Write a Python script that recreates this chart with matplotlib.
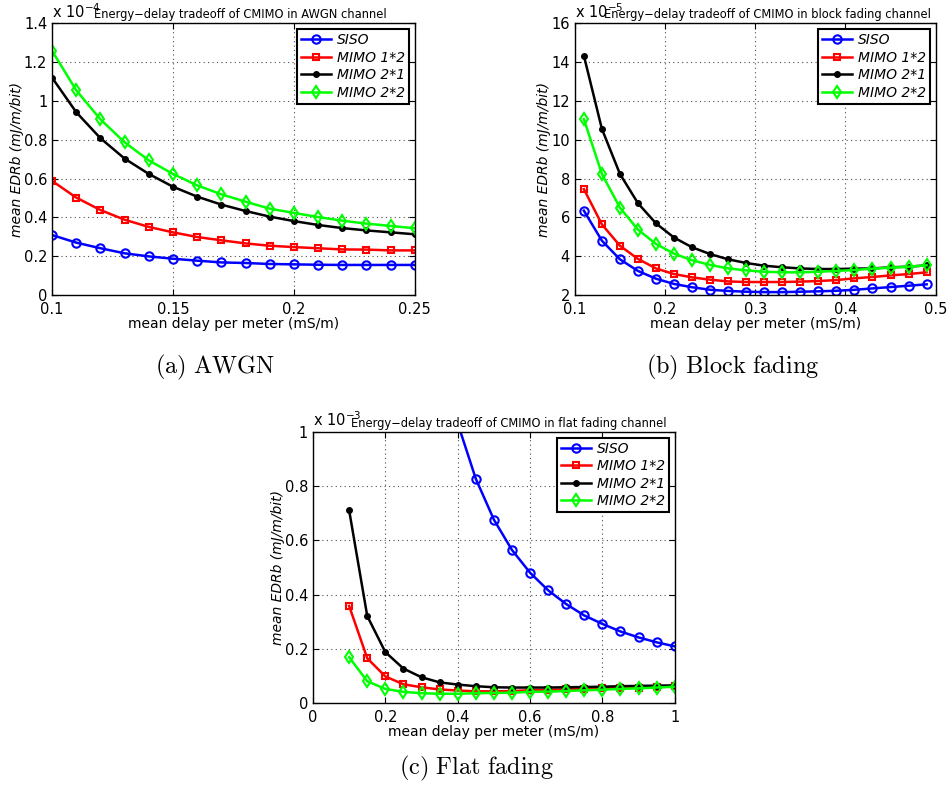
import numpy as np
import matplotlib.pyplot as plt
from matplotlib.ticker import FormatStrFormatter

plt.rcParams['mathtext.fontset'] = 'cm'

labels = ['SISO', 'MIMO 1*2', 'MIMO 2*1', 'MIMO 2*2']

# (a) AWGN, values in units of 1e-4
xa = np.arange(0.10, 0.2501, 0.01)
siso_a = [0.309, 0.270, 0.241, 0.215, 0.199, 0.187, 0.177, 0.168, 0.165, 0.160, 0.158, 0.156, 0.155, 0.155, 0.155, 0.155]
m12_a = [0.588, 0.502, 0.438, 0.388, 0.351, 0.323, 0.299, 0.282, 0.266, 0.254, 0.247, 0.241, 0.235, 0.234, 0.230, 0.230]
m21_a = [1.120, 0.942, 0.808, 0.703, 0.624, 0.558, 0.507, 0.466, 0.433, 0.404, 0.381, 0.361, 0.345, 0.333, 0.323, 0.313]
m22_a = [1.258, 1.055, 0.905, 0.787, 0.694, 0.624, 0.565, 0.519, 0.481, 0.445, 0.423, 0.402, 0.383, 0.368, 0.356, 0.344]

# (b) block fading, values in units of 1e-5
xb = np.arange(0.11, 0.4901, 0.02)
siso_b = [6.35, 4.80, 3.84, 3.24, 2.84, 2.57, 2.40, 2.27, 2.21, 2.17, 2.15, 2.15, 2.17, 2.19, 2.22, 2.27, 2.34, 2.41, 2.48, 2.55]
m12_b = [7.46, 5.64, 4.54, 3.86, 3.37, 3.08, 2.91, 2.79, 2.70, 2.67, 2.67, 2.67, 2.69, 2.72, 2.77, 2.86, 2.93, 3.01, 3.08, 3.17]
m21_b = [14.34, 10.56, 8.24, 6.73, 5.69, 4.96, 4.46, 4.11, 3.84, 3.65, 3.51, 3.43, 3.37, 3.34, 3.34, 3.36, 3.37, 3.43, 3.46, 3.53]
m22_b = [11.07, 8.24, 6.50, 5.37, 4.63, 4.13, 3.79, 3.55, 3.37, 3.27, 3.20, 3.17, 3.17, 3.20, 3.24, 3.29, 3.36, 3.41, 3.46, 3.53]

# (c) flat fading, values in units of 1e-3
xc = np.arange(0.10, 1.0001, 0.05)
xc_siso = np.arange(0.40, 1.0001, 0.05)
siso_c = [1.033, 0.828, 0.677, 0.565, 0.481, 0.416, 0.365, 0.323, 0.292, 0.264, 0.242, 0.224, 0.209]
m12_c = [0.358, 0.165, 0.098, 0.069, 0.058, 0.050, 0.046, 0.043, 0.043, 0.044, 0.047, 0.048, 0.050, 0.052, 0.054, 0.055, 0.057, 0.059, 0.061]
m21_c = [0.711, 0.321, 0.188, 0.127, 0.095, 0.076, 0.068, 0.062, 0.058, 0.057, 0.057, 0.057, 0.058, 0.059, 0.060, 0.062, 0.063, 0.064, 0.065]
m22_c = [0.169, 0.080, 0.052, 0.041, 0.036, 0.034, 0.034, 0.036, 0.037, 0.038, 0.041, 0.042, 0.044, 0.047, 0.049, 0.052, 0.054, 0.057, 0.060]

styles = [dict(color=(0, 0, 1), marker='o', ms=6, mfc='none', mew=1.5),
          dict(color=(1, 0, 0), marker='s', ms=5, mfc='none', mew=1.5),
          dict(color='k', marker='o', ms=4, mfc='k', mew=1),
          dict(color=(0, 1, 0), marker='d', ms=6, mfc='none', mew=1.5)]

fig = plt.figure(figsize=(9.47, 7.92), dpi=100)


def panel(rect, xs, ys, xlim, ylim, xt, yt, exp, title, title_x):
    ax = fig.add_axes(rect)
    for x, y, lab, st in zip(xs, ys, labels, styles):
        ax.plot(x, y, lw=1.8, label=lab, **st)
    ax.set_xlim(xlim)
    ax.set_ylim(ylim)
    ax.set_xticks(xt)
    ax.set_yticks(yt)
    ax.xaxis.set_major_formatter(FormatStrFormatter('%g'))
    ax.yaxis.set_major_formatter(FormatStrFormatter('%g'))
    ax.tick_params(direction='in', top=True, right=True, labelsize=10.5, length=4)
    ax.tick_params(axis='x', pad=5)
    ax.grid(True, ls=(0, (1, 3)), color='0.3', lw=0.8)
    for s in ax.spines.values():
        s.set_linewidth(1.0)
    ax.set_xlabel('mean delay per meter (mS/m)', fontsize=10, labelpad=0)
    ax.set_ylabel('mean EDRb (mJ/m/bit)', fontsize=10, style='italic', labelpad=0)
    ax.text(0.0, 1.01, r'x 10$^{%d}$' % exp, transform=ax.transAxes, fontsize=10.5,
            ha='left', va='bottom', math_fontfamily='dejavusans')
    ax.set_title(title, fontsize=8.3, pad=4, x=title_x)
    leg = ax.legend(loc='upper right', fancybox=False, framealpha=1, edgecolor='k',
                    prop=dict(style='italic', size=10), handlelength=2.2,
                    borderaxespad=0.4, labelspacing=0.25, borderpad=0.3, handletextpad=0.4)
    leg.get_frame().set_linewidth(1.5)
    return ax


panel([0.055, 0.6275, 0.383, 0.343], [xa] * 4, [siso_a, m12_a, m21_a, m22_a],
      (0.1, 0.25), (0, 1.4), [0.1, 0.15, 0.2, 0.25], np.arange(0, 1.41, 0.2), -4,
      'Energy\u2212delay tradeoff of CMIMO in AWGN channel', 0.52)
panel([0.607, 0.6275, 0.381, 0.343], [xb] * 4, [siso_b, m12_b, m21_b, m22_b],
      (0.1, 0.5), (2, 16), np.arange(0.1, 0.51, 0.1), np.arange(2, 16.1, 2), -5,
      'Energy\u2212delay tradeoff of CMIMO in block fading channel', 0.535)
panel([0.3305, 0.1124, 0.382, 0.342], [xc_siso, xc, xc, xc], [siso_c, m12_c, m21_c, m22_c],
      (0, 1), (0, 1), np.arange(0, 1.01, 0.2), np.arange(0, 1.01, 0.2), -3,
      'Energy\u2212delay tradeoff of CMIMO in flat fading channel', 0.54)

fig.text(0.227, 0.5366, r'$\mathrm{(a)\ AWGN}$', ha='center', va='center', fontsize=17.5)
fig.text(0.774, 0.5366, r'$\mathrm{(b)\ Block\ fading}$', ha='center', va='center', fontsize=17.5)
fig.text(0.503, 0.0303, r'$\mathrm{(c)\ Flat\ fading}$', ha='center', va='center', fontsize=17.5)

fig.savefig('out.png', dpi=100)
